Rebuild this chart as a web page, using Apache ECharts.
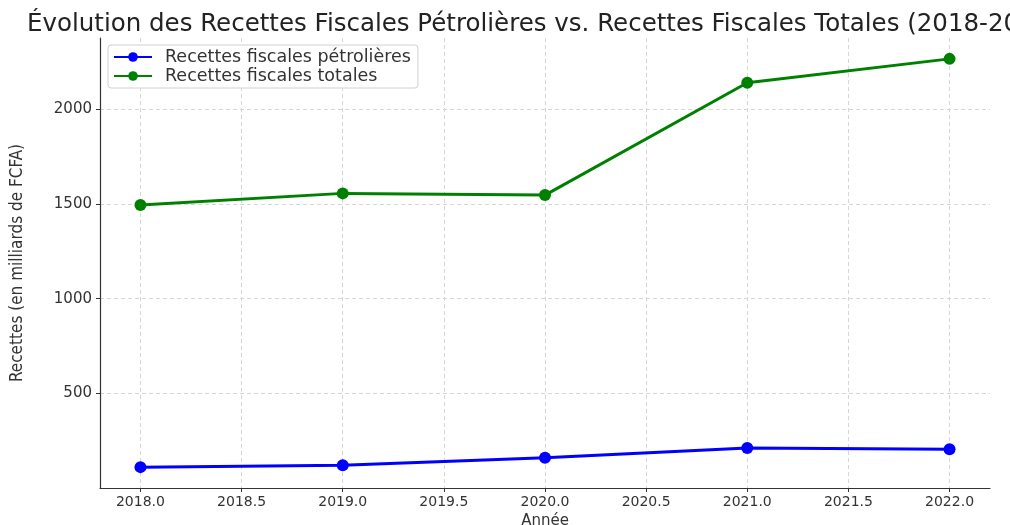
<!DOCTYPE html>
<html>
<head>
<meta charset="utf-8">
<script src="https://cdn.jsdelivr.net/npm/echarts@6/dist/echarts.min.js"></script>
<style>
  html, body { margin: 0; padding: 0; background: #fff; }
  #chart { width: 1010px; height: 525px; }
</style>
</head>
<body>
<div id="chart"></div>
<script>
// données
const years = [2018, 2019, 2020, 2021, 2022];
const petroliere = [112, 122, 161, 213, 206];
const totales = [1494, 1555, 1546, 2138, 2264];
const xTicks = [2018, 2018.5, 2019, 2019.5, 2020, 2020.5, 2021, 2021.5, 2022];
const yTicks = [500, 1000, 1500, 2000];

const font = 'DejaVu Sans';
const chart = echarts.init(document.getElementById('chart'));

const toPairs = vals => years.map((y, i) => [y, vals[i]]);

chart.setOption({
    animation: false,
    title: {
        text: 'Évolution des Recettes Fiscales Pétrolières vs. Recettes Fiscales Totales (2018-2022)',
        left: 22, top: 7,
        textStyle: { fontFamily: font, fontSize: 24.5, fontWeight: 'normal', color: '#222' }
    },
    legend: {
        orient: 'vertical',
        left: 108, top: 45,
        padding: [3, 7, 3, 5],
        itemWidth: 38, itemHeight: 12, itemGap: 1,
        backgroundColor: '#fff',
        borderColor: '#d0d0d0', borderWidth: 1, borderRadius: 3,
        textStyle: { fontFamily: font, fontSize: 17.5, color: '#333', padding: [0, 0, 0, 8] },
        data: ['Recettes fiscales pétrolières', 'Recettes fiscales totales']
    },
    grid: { left: 100, right: 20, top: 38, bottom: 37, outerBoundsMode: 'none' },
    xAxis: {
        type: 'value',
        min: 2017.8, max: 2022.2,
        name: 'Année', nameLocation: 'middle', nameGap: 23,
        nameTextStyle: { fontFamily: font, fontSize: 15, color: '#333' },
        axisLine: { lineStyle: { color: '#333', width: 1.2 } },
        axisTick: { customValues: xTicks, length: 4, lineStyle: { color: '#333' } },
        axisLabel: {
            customValues: xTicks, fontFamily: font, fontSize: 14, color: '#333', margin: 7,
            formatter: v => v.toFixed(1)
        },
        splitLine: { show: true, lineStyle: { color: '#d6d6d6', type: [4, 3] } }
    },
    yAxis: {
        type: 'value',
        min: 2, max: 2374,
        name: 'Recettes (en milliards de FCFA)', nameLocation: 'middle', nameGap: 74,
        nameRotate: 90,
        nameTextStyle: { fontFamily: 'DejaVu Sans Condensed, DejaVu Sans', fontSize: 17, color: '#333' },
        axisLine: { show: true, lineStyle: { color: '#333', width: 1.2 } },
        axisTick: { show: true, customValues: yTicks, length: 4, lineStyle: { color: '#333' } },
        axisLabel: {
            customValues: yTicks, fontFamily: font, fontSize: 15, color: '#333', margin: 8,
            formatter: v => String(v)
        },
        splitLine: { show: true, lineStyle: { color: '#d6d6d6', type: [4, 3] } }
    },
    series: [
        {
            name: 'Recettes fiscales pétrolières',
            type: 'line',
            data: toPairs(petroliere),
            symbol: 'circle', symbolSize: 12,
            itemStyle: { color: '#0000ff' },
            lineStyle: { color: '#0000ff', width: 3 }
        },
        {
            name: 'Recettes fiscales totales',
            type: 'line',
            data: toPairs(totales),
            symbol: 'circle', symbolSize: 12,
            itemStyle: { color: '#008000' },
            lineStyle: { color: '#008000', width: 3 }
        }
    ]
});
</script>
</body>
</html>
